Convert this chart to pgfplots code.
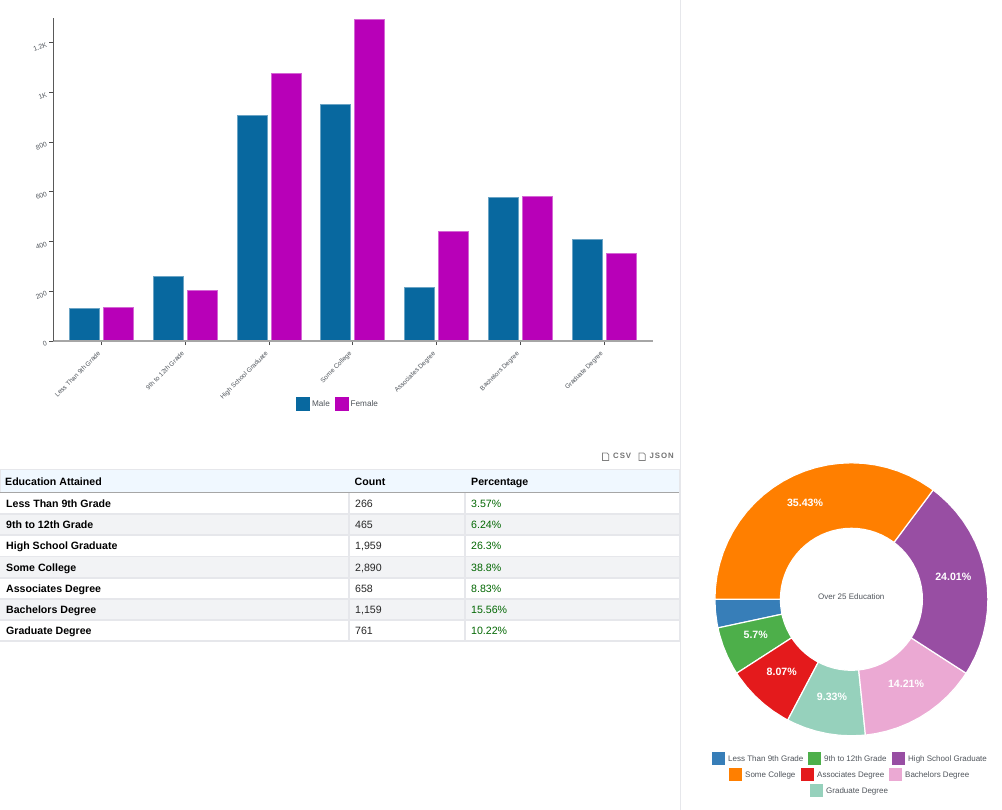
\documentclass[border=0pt]{standalone}
\usepackage{fontspec}
\setmainfont{Liberation Sans}
\usepackage{pgfplots}
\usepackage{pgfplotstable}
\pgfplotsset{compat=1.18}

\definecolor{male}{HTML}{08689F}
\definecolor{female}{HTML}{B800B8}
\definecolor{cblue}{HTML}{377EB8}
\definecolor{cgreen}{HTML}{4DAF4A}
\definecolor{cred}{HTML}{E41A1C}
\definecolor{cteal}{HTML}{96D1BC}
\definecolor{cpink}{HTML}{EBA9D3}
\definecolor{cpurple}{HTML}{984EA3}
\definecolor{corange}{HTML}{FF7F00}
\definecolor{rowgray}{HTML}{F2F3F5}
\definecolor{rowline}{HTML}{E6E7EB}
\definecolor{headblue}{HTML}{F0F8FF}
\definecolor{chartgray}{HTML}{50555C}

\pgfplotstableread{
idx male female
0 130 136
1 260 205
2 907 1075
3 950 1292
4 217 441
5 578 581
6 409 352
}\edubars

% one row of the html table: y-top, y-bottom, fill, name, count, percent
\newcommand{\edurow}[6]{%
  \fill[#3] (0,#1) rectangle (679,#2);
  \node[anchor=base west,inner sep=0pt,font=\fontsize{10.6}{13}\selectfont\bfseries,text=black] at (6,#2-5.8) {#4};
  \node[anchor=base west,inner sep=0pt,font=\fontsize{10.6}{13}\selectfont,text=black!85] at (355,#2-5.8) {#5};
  \node[anchor=base west,inner sep=0pt,font=\fontsize{10.6}{13}\selectfont,text=green!40!black] at (471,#2-5.8) {#6};
}
% legend of the donut
\newcommand{\dkey}[4]{%
  \fill[#1] (#2,#3) rectangle ++(13,13);
  \node[anchor=base west,inner sep=0pt,font=\fontsize{8}{10}\selectfont,text=chartgray] at (#2+16,#3+9.2) {#4};
}
\newcommand{\fileicon}[2]{%
  \draw[black!50,line width=0.7pt] (#1,#2) -- ++(4.5,0) -- ++(1.8,1.8) -- ++(0,5.7) -- ++(-6.3,0) -- cycle;
}

\begin{document}
\begin{tikzpicture}
\begin{scope}[x=1pt,y=-1pt]
  \path[use as bounding box] (0,0) rectangle (1002,810);
  \fill[white] (0,0) rectangle (1002,810);
  \draw[rowline,line width=1pt] (680.5,0) -- (680.5,810);
  % table
  \fill[rowline] (0,469) rectangle (680,642);
  \fill[headblue] (0.5,470) rectangle (679,492);
  \fill[black!35] (0,492) rectangle (679,493.2);
  \node[anchor=base west,inner sep=0pt,font=\fontsize{10.6}{13}\selectfont\bfseries,text=black] at (5,485) {Education Attained};
  \node[anchor=base west,inner sep=0pt,font=\fontsize{10.6}{13}\selectfont\bfseries,text=black] at (354.5,485) {Count};
  \node[anchor=base west,inner sep=0pt,font=\fontsize{10.6}{13}\selectfont\bfseries,text=black] at (471,485) {Percentage};
  \edurow{493.2}{513.2}{white}{Less Than 9th Grade}{266}{3.57\%}
  \edurow{515}{534.4}{rowgray}{9th to 12th Grade}{465}{6.24\%}
  \edurow{536.2}{555.6}{white}{High School Graduate}{1,959}{26.3\%}
  \edurow{557.4}{576.8}{rowgray}{Some College}{2,890}{38.8\%}
  \edurow{578.6}{598}{white}{Associates Degree}{658}{8.83\%}
  \edurow{599.8}{619.2}{rowgray}{Bachelors Degree}{1,159}{15.56\%}
  \edurow{621}{640.2}{white}{Graduate Degree}{761}{10.22\%}
  \fill[rowline] (348.3,493.2) rectangle (350,640.2);
  \fill[rowline] (464.3,493.2) rectangle (466,640.2);
  % export links
  \fileicon{602.5}{453}
  \fileicon{639}{453}
  \node[anchor=base west,inner sep=0pt,font=\fontsize{7.8}{10}\selectfont\bfseries\addfontfeature{LetterSpace=12},text=black!55] at (613,458.8) {CSV};
  \node[anchor=base west,inner sep=0pt,font=\fontsize{7.8}{10}\selectfont\bfseries\addfontfeature{LetterSpace=12},text=black!55] at (649.5,458.8) {JSON};
\end{scope}

\begin{axis}[
  at={(53.3pt,-341pt)},anchor=south west,
  scale only axis,width=599.4pt,height=323pt,
  ybar,bar width=30pt,
  xmin=-0.577,xmax=6.58,ymin=0,ymax=1299,
  axis x line*=bottom,axis y line*=left,
  axis on top,
  every outer x axis line/.append style={-,draw=black!35,line width=2pt},
  every outer y axis line/.append style={-,draw=black!65,line width=1.2pt},
  xtick={0,...,6},
  xticklabels={Less Than 9th Grade,9th to 12th Grade,High School Graduate,Some College,Associates Degree,Bachelors Degree,Graduate Degree},
  ytick={0,200,400,600,800,1000,1200},
  yticklabels={0,200,400,600,800,1K,1.2K},
  tick align=outside,major tick length=4pt,
  tick style={draw=black!70,line width=0.8pt},
  xticklabel style={rotate=45,anchor=north east,inner sep=0pt,xshift=-7pt,yshift=-1pt,font=\fontsize{6.5}{8}\selectfont,text=chartgray},
  yticklabel style={rotate=20,anchor=east,inner sep=0pt,xshift=-3pt,yshift=-1pt,font=\fontsize{6.8}{8}\selectfont,text=chartgray},
  clip=false,
  legend columns=2,
  legend style={at={(0.405,-0.1734)},anchor=north west,draw=none,fill=none,inner sep=0pt,font=\fontsize{8.2}{10}\selectfont,text=chartgray,/tikz/every even column/.append style={column sep=3pt}},
  legend cell align=left,
  area legend,
]
  \addplot[fill=male,draw=male!60!white,line width=0.8pt,bar shift=-17pt,
    legend image code/.code={\fill[male] (0pt,-6.5pt) rectangle (13pt,6.5pt);}]
    table[x=idx,y=male] {\edubars};
  \addlegendentry{Male}
  \addplot[fill=female,draw=female!60!white,line width=0.8pt,bar shift=17pt,
    legend image code/.code={\fill[female] (0pt,-6.5pt) rectangle (13pt,6.5pt);}]
    table[x=idx,y=female] {\edubars};
  \addlegendentry{Female}
\end{axis}

\begin{axis}[
  at={(711.4pt,-739.3pt)},anchor=south west,
  scale only axis,width=280pt,height=280pt,
  xmin=-140,xmax=140,ymin=-140,ymax=140,
  hide axis,clip=false,
]
  % slices as (angle, radius), share of the counts 266 465 658 761 1159 1959 2890
  \pgfplotsset{every axis plot/.append style={draw=white,line width=1.2pt,data cs=polar}}
  \addplot[fill=cblue] coordinates {(180,136.5)(185,136.5)(190,136.5)(192.1,136.5)(192.1,71)(190,71)(185,71)(180,71)} --cycle;
  \addplot[fill=cgreen] coordinates {(192.1,136.5)(195,136.5)(200,136.5)(205,136.5)(210,136.5)(212.8,136.5)(212.8,71)(210,71)(205,71)(200,71)(195,71)(192.1,71)} --cycle;
  \addplot[fill=cred] coordinates {(212.8,136.5)(215,136.5)(220,136.5)(225,136.5)(230,136.5)(235,136.5)(240,136.5)(242.2,136.5)(242.2,71)(240,71)(235,71)(230,71)(225,71)(220,71)(215,71)(212.8,71)} --cycle;
  \addplot[fill=cteal] coordinates {(242.2,136.5)(245,136.5)(250,136.5)(255,136.5)(260,136.5)(265,136.5)(270,136.5)(275,136.5)(275.9,136.5)(275.9,71)(275,71)(270,71)(265,71)(260,71)(255,71)(250,71)(245,71)(242.2,71)} --cycle;
  \addplot[fill=cpink] coordinates {(275.9,136.5)(280,136.5)(285,136.5)(290,136.5)(295,136.5)(300,136.5)(305,136.5)(310,136.5)(315,136.5)(320,136.5)(325,136.5)(327.2,136.5)(327.2,71)(325,71)(320,71)(315,71)(310,71)(305,71)(300,71)(295,71)(290,71)(285,71)(280,71)(275.9,71)} --cycle;
  \addplot[fill=cpurple] coordinates {(327.2,136.5)(330,136.5)(335,136.5)(340,136.5)(345,136.5)(350,136.5)(355,136.5)(360,136.5)(365,136.5)(370,136.5)(375,136.5)(380,136.5)(385,136.5)(390,136.5)(395,136.5)(400,136.5)(405,136.5)(410,136.5)(413.2,136.5)(413.2,71)(410,71)(405,71)(400,71)(395,71)(390,71)(385,71)(380,71)(375,71)(370,71)(365,71)(360,71)(355,71)(350,71)(345,71)(340,71)(335,71)(330,71)(327.2,71)} --cycle;
  \addplot[fill=corange] coordinates {(53.2,136.5)(55,136.5)(60,136.5)(65,136.5)(70,136.5)(75,136.5)(80,136.5)(85,136.5)(90,136.5)(95,136.5)(100,136.5)(105,136.5)(110,136.5)(115,136.5)(120,136.5)(125,136.5)(130,136.5)(135,136.5)(140,136.5)(145,136.5)(150,136.5)(155,136.5)(160,136.5)(165,136.5)(170,136.5)(175,136.5)(180,136.5)(180,71)(175,71)(170,71)(165,71)(160,71)(155,71)(150,71)(145,71)(140,71)(135,71)(130,71)(125,71)(120,71)(115,71)(110,71)(105,71)(100,71)(95,71)(90,71)(85,71)(80,71)(75,71)(70,71)(65,71)(60,71)(55,71)(53.2,71)} --cycle;
\end{axis}

\begin{scope}[x=1pt,y=-1pt]
  \tikzset{plab/.style={text=white,font=\fontsize{10.6}{13}\selectfont\bfseries,inner sep=0pt}}
  \node[plab] at (805,503.3) {35.43\%};
  \node[plab] at (953.3,577) {24.01\%};
  \node[plab] at (906,684.3) {14.21\%};
  \node[plab] at (832,697) {9.33\%};
  \node[plab] at (781.7,672.3) {8.07\%};
  \node[plab] at (755.7,635.3) {5.7\%};
  \node[inner sep=0pt,font=\fontsize{8}{10}\selectfont,text=chartgray] at (851.3,596.3) {Over 25 Education};
  \dkey{cblue}{712}{752}{Less Than 9th Grade}
  \dkey{cgreen}{808}{752}{9th to 12th Grade}
  \dkey{cpurple}{892}{752}{High School Graduate}
  \dkey{corange}{729}{768}{Some College}
  \dkey{cred}{801}{768}{Associates Degree}
  \dkey{cpink}{889}{768}{Bachelors Degree}
  \dkey{cteal}{810}{784}{Graduate Degree}
\end{scope}
\end{tikzpicture}
\end{document}
